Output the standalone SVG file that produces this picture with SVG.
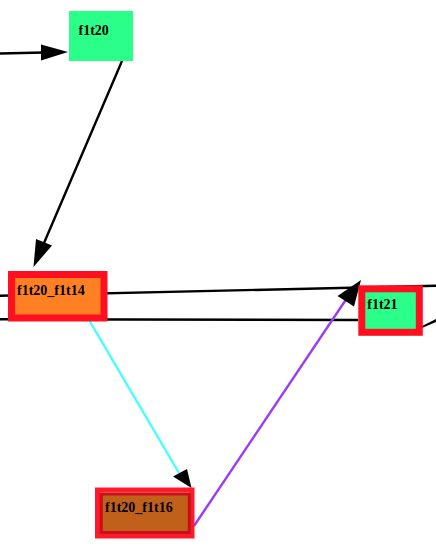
<svg xmlns="http://www.w3.org/2000/svg" width="436" height="552" viewBox="0 0 436 552">
<style>
.lbl{font-family:"Liberation Serif",serif;font-weight:bold;font-size:14px;fill:#000}
.e{fill:none;stroke-width:2.4}
.ah{fill:#000}
</style>
<rect width="436" height="552" fill="#fff"/>
<g id="connectors">
  <path class="e" stroke="#000" d="M0,53.5 L44,52.5"/>
  <polygon class="ah" points="68,52 41,44.5 41,60.5"/>
  <path class="e" stroke="#000" d="M122,61 L44,243"/>
  <polygon class="ah" points="33.5,267 36,239 52,245.5"/>
  <path class="e" stroke="#000" d="M0,295.7 L436,285.8"/>
  <path class="e" stroke="#000" d="M0,319.3 L358,320"/>
  <polygon class="ah" points="436,319 422,326 422,328 436,322"/>
  <path class="e" stroke="#44ffff" d="M89,320 L179,473"/>
  <polygon class="ah" points="191.5,488 173,476.5 187,469"/>
  <path class="e" stroke="#9b3cf5" d="M194,526 L347,298"/>
  <polygon class="ah" points="361,280 337.5,296 354,306.5"/>
</g>
<g id="f1t20">
  <rect x="69" y="11" width="64" height="50" fill="#2bff8a"/>
  <text class="lbl" x="78.5" y="35">f1t20</text>
</g>
<g id="f1t20_f1t14">
  <rect x="11.5" y="274.5" width="92.5" height="43.5" fill="#ff8022" stroke="#ff0f1f" stroke-width="7"/>
  <text class="lbl" x="17" y="295">f1t20_f1t14</text>
</g>
<g id="f1t21">
  <rect x="361.8" y="288.8" width="57.5" height="43.5" fill="#2bff8a" stroke="#ff0f1f" stroke-width="7"/>
  <text class="lbl" x="367.3" y="309.3">f1t21</text>
</g>
<g id="f1t20_f1t16">
  <rect x="97.5" y="490" width="94.5" height="46" fill="none" stroke="#ff1a2a" stroke-width="5"/>
  <rect x="101.3" y="494" width="88" height="38.5" fill="#c0601a" stroke="#c8101a" stroke-width="3"/>
  <text class="lbl" x="105" y="511.7">f1t20_f1t16</text>
</g>
</svg>
